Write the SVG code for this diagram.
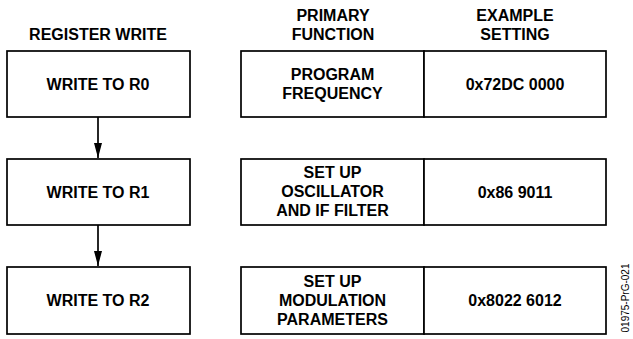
<svg xmlns="http://www.w3.org/2000/svg" width="633" height="339" viewBox="0 0 633 339">
<style>
.b{fill:#fff;stroke:#000;stroke-width:1.7}
.t{font-family:"Liberation Sans",Arial,sans-serif;font-weight:bold;font-size:16px;fill:#000;text-anchor:middle}
.c{stroke:#000;stroke-width:1.7;fill:none}
.id{font-family:"Liberation Sans",Arial,sans-serif;font-size:10px;fill:#000;text-anchor:middle}
</style>
<defs>
<marker id="ah" markerWidth="15" markerHeight="8" refX="15" refY="4" orient="auto" markerUnits="userSpaceOnUse" viewBox="0 0 15 8">
<path d="M0,0 L15,4 L0,8 Z" fill="#000"/>
</marker>
</defs>
<g id="headers">
<text class="t" x="98" y="40">REGISTER WRITE</text>
<text class="t" x="333" y="21">PRIMARY</text>
<text class="t" x="333" y="40">FUNCTION</text>
<text class="t" x="515" y="21">EXAMPLE</text>
<text class="t" x="515" y="40">SETTING</text>
</g>
<g id="r0">
<rect class="b" x="7" y="51" width="183" height="66"/>
<text class="t" x="98" y="89.5">WRITE TO R0</text>
</g>
<g id="r1">
<rect class="b" x="7" y="159" width="183" height="66"/>
<text class="t" x="98" y="197.5">WRITE TO R1</text>
</g>
<g id="r2">
<rect class="b" x="7" y="267" width="183" height="67"/>
<text class="t" x="98" y="306">WRITE TO R2</text>
</g>
<g id="f0">
<rect class="b" x="241" y="51" width="183" height="66"/>
<text class="t" x="332.5" y="80">PROGRAM</text>
<text class="t" x="332.5" y="99">FREQUENCY</text>
</g>
<g id="s0">
<rect class="b" x="424" y="51" width="182" height="66"/>
<text class="t" x="515" y="89.5">0x72DC 0000</text>
</g>
<g id="f1">
<rect class="b" x="241" y="159" width="183" height="66"/>
<text class="t" x="332.5" y="178">SET UP</text>
<text class="t" x="332.5" y="197">OSCILLATOR</text>
<text class="t" x="332.5" y="216">AND IF FILTER</text>
</g>
<g id="s1">
<rect class="b" x="424" y="159" width="182" height="66"/>
<text class="t" x="515" y="197.5">0x86 9011</text>
</g>
<g id="f2">
<rect class="b" x="241" y="267" width="183" height="67"/>
<text class="t" x="332.5" y="287">SET UP</text>
<text class="t" x="332.5" y="306">MODULATION</text>
<text class="t" x="332.5" y="325">PARAMETERS</text>
</g>
<g id="s2">
<rect class="b" x="424" y="267" width="182" height="67"/>
<text class="t" x="515" y="306">0x8022 6012</text>
</g>
<g id="connectors">
<line class="c" x1="98" y1="117" x2="98" y2="158" marker-end="url(#ah)"/>
<line class="c" x1="98" y1="225" x2="98" y2="266" marker-end="url(#ah)"/>
</g>
<text class="id" transform="translate(629,298) rotate(-90)">01975-PrG-021</text>
</svg>
